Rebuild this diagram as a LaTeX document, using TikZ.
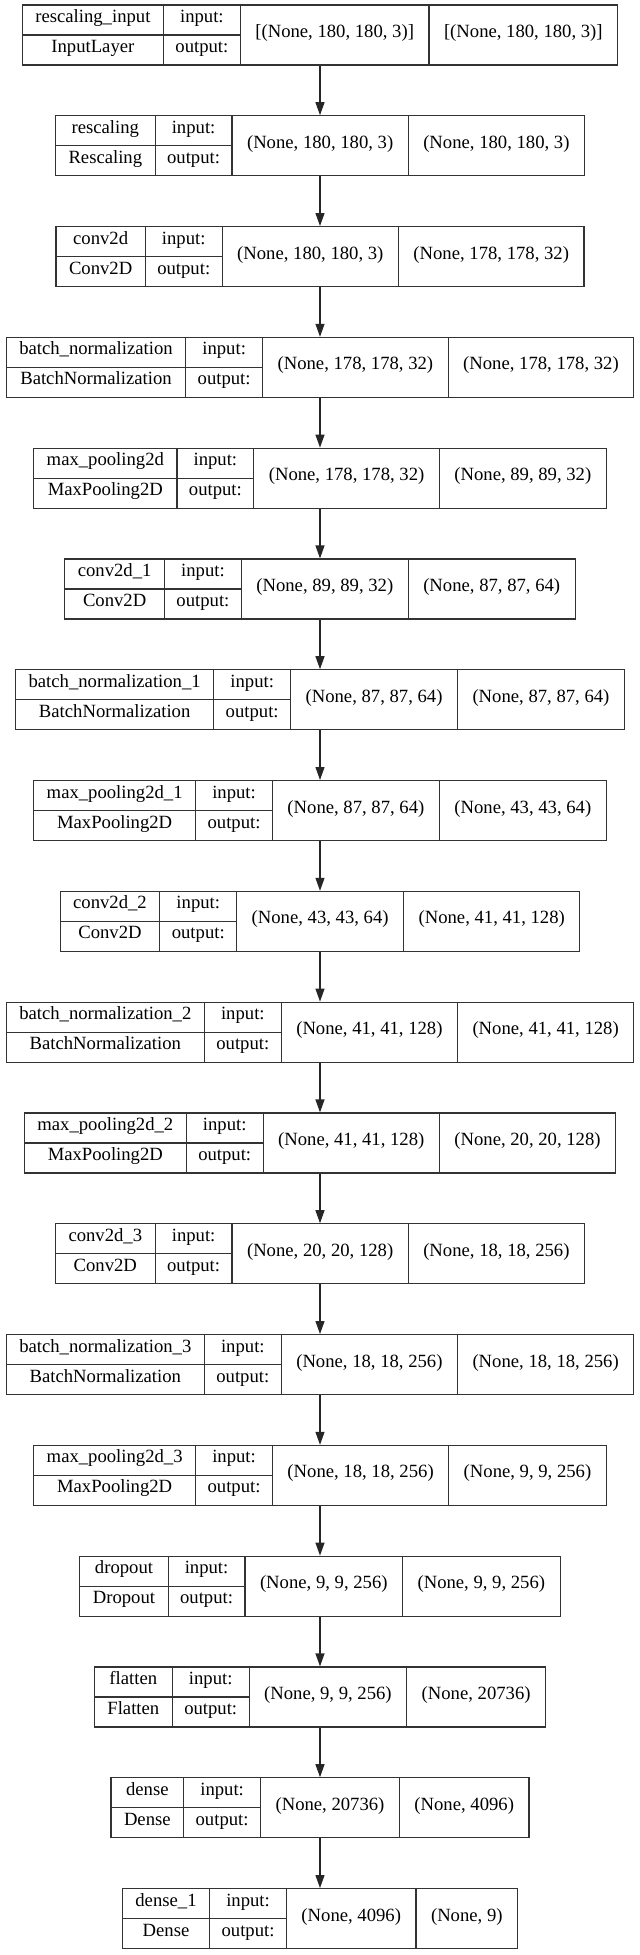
\documentclass[tikz,border=0pt]{standalone}
\usepackage{fontspec}
\setmainfont{Liberation Serif}
\usetikzlibrary{arrows.meta}
\newlength\lwA \newlength\lwB \newlength\lwC \newlength\lwD \newlength\lwT
\newcommand\lf{\fontsize{18.67}{22}\selectfont}
\tikzset{
  layerbox/.style={draw=black!80, line width=1.2pt, inner sep=0pt},
  sepline/.style={draw=black!80, line width=1.2pt},
  txt/.style={font=\lf, inner sep=0pt, text height=0.68em, text depth=0.2em},
  arr/.style={draw=black!85, line width=1.2pt, -{Triangle[length=13pt,width=9pt]}}
}
% measuring pass (outside the picture)
\newcommand\measurelayer[6]{%
  \begingroup
  \normalfont\lf
  \settowidth\lwA{#3}\settowidth\lwT{#4}%
  \ifdim\lwT>\lwA \lwA=\lwT\fi
  \settowidth\lwB{output:}%
  \settowidth\lwC{#5}\settowidth\lwD{#6}%
  \expandafter\xdef\csname mA@#1\endcsname{\the\lwA}%
  \expandafter\xdef\csname mB@#1\endcsname{\the\lwB}%
  \expandafter\xdef\csname mC@#1\endcsname{\the\lwC}%
  \expandafter\xdef\csname mD@#1\endcsname{\the\lwD}%
  \endgroup}
% drawing pass
% #1 node name, #2 top y, #3 name, #4 class, #5 input shape, #6 output shape
\newcommand\drawlayer[6]{%
  \pgfmathsetmacro\cwA{\csname mA@#1\endcsname+26}%
  \pgfmathsetmacro\cwB{\csname mB@#1\endcsname+24}%
  \pgfmathsetmacro\cwC{\csname mC@#1\endcsname+30}%
  \pgfmathsetmacro\cwD{\csname mD@#1\endcsname+30}%
  \pgfmathsetmacro\cwAll{\cwA+\cwB+\cwC+\cwD}%
  \pgfmathsetmacro\cxA{320-\cwAll/2}%
  \pgfmathsetmacro\cxB{\cxA+\cwA}%
  \pgfmathsetmacro\cxC{\cxB+\cwB}%
  \pgfmathsetmacro\cxD{\cxC+\cwC}%
  \pgfmathsetmacro\cxE{\cxD+\cwD}%
  \pgfmathsetmacro\cyT{#2}%
  \pgfmathsetmacro\cyM{#2+30}%
  \pgfmathsetmacro\cyB{#2+60}%
  \node[layerbox, minimum width=\cwAll pt, minimum height=60pt] (#1) at (320,\cyM) {};
  \draw[sepline] (\cxA,\cyM) -- (\cxC,\cyM);
  \draw[sepline] (\cxB,\cyT) -- (\cxB,\cyB);
  \draw[sepline] (\cxC,\cyT) -- (\cxC,\cyB);
  \draw[sepline] (\cxD,\cyT) -- (\cxD,\cyB);
  \node[txt] (#1-name) at ({(\cxA+\cxB)/2},{(\cyT+\cyM)/2}) {#3};
  \node[txt] (#1-class) at ({(\cxA+\cxB)/2},{(\cyM+\cyB)/2}) {#4};
  \node[txt] (#1-inl) at ({(\cxB+\cxC)/2},{(\cyT+\cyM)/2}) {input:};
  \node[txt] (#1-outl) at ({(\cxB+\cxC)/2},{(\cyM+\cyB)/2}) {output:};
  \node[txt] (#1-in) at ({(\cxC+\cxD)/2},\cyM) {#5};
  \node[txt] (#1-out) at ({(\cxD+\cxE)/2},\cyM) {#6};
}
\newcommand\alllayers{%
\layer{L0}{5}{rescaling\_input}{InputLayer}{[(None, 180, 180, 3)]}{[(None, 180, 180, 3)]}%
\layer{L1}{115.8}{rescaling}{Rescaling}{(None, 180, 180, 3)}{(None, 180, 180, 3)}%
\layer{L2}{226.6}{conv2d}{Conv2D}{(None, 180, 180, 3)}{(None, 178, 178, 32)}%
\layer{L3}{337.4}{batch\_normalization}{BatchNormalization}{(None, 178, 178, 32)}{(None, 178, 178, 32)}%
\layer{L4}{448.2}{max\_pooling2d}{MaxPooling2D}{(None, 178, 178, 32)}{(None, 89, 89, 32)}%
\layer{L5}{559.0}{conv2d\_1}{Conv2D}{(None, 89, 89, 32)}{(None, 87, 87, 64)}%
\layer{L6}{669.8}{batch\_normalization\_1}{BatchNormalization}{(None, 87, 87, 64)}{(None, 87, 87, 64)}%
\layer{L7}{780.6}{max\_pooling2d\_1}{MaxPooling2D}{(None, 87, 87, 64)}{(None, 43, 43, 64)}%
\layer{L8}{891.4}{conv2d\_2}{Conv2D}{(None, 43, 43, 64)}{(None, 41, 41, 128)}%
\layer{L9}{1002.2}{batch\_normalization\_2}{BatchNormalization}{(None, 41, 41, 128)}{(None, 41, 41, 128)}%
\layer{L10}{1113.0}{max\_pooling2d\_2}{MaxPooling2D}{(None, 41, 41, 128)}{(None, 20, 20, 128)}%
\layer{L11}{1223.8}{conv2d\_3}{Conv2D}{(None, 20, 20, 128)}{(None, 18, 18, 256)}%
\layer{L12}{1334.6}{batch\_normalization\_3}{BatchNormalization}{(None, 18, 18, 256)}{(None, 18, 18, 256)}%
\layer{L13}{1445.4}{max\_pooling2d\_3}{MaxPooling2D}{(None, 18, 18, 256)}{(None, 9, 9, 256)}%
\layer{L14}{1556.2}{dropout}{Dropout}{(None, 9, 9, 256)}{(None, 9, 9, 256)}%
\layer{L15}{1667.0}{flatten}{Flatten}{(None, 9, 9, 256)}{(None, 20736)}%
\layer{L16}{1777.8}{dense}{Dense}{(None, 20736)}{(None, 4096)}%
\layer{L17}{1888.6}{dense\_1}{Dense}{(None, 4096)}{(None, 9)}%
}
\AtBeginDocument{{\let\layer\measurelayer\alllayers}}
\begin{document}
\begin{tikzpicture}[x=1pt,y=-1pt]
\useasboundingbox[fill=white] (0,0) rectangle (640,1955);
\let\layer\drawlayer
\alllayers
\foreach \a/\b in {L0/L1,L1/L2,L2/L3,L3/L4,L4/L5,L5/L6,L6/L7,L7/L8,L8/L9,L9/L10,L10/L11,L11/L12,L12/L13,L13/L14,L14/L15,L15/L16,L16/L17}
  \draw[arr] (\a.south) -- (\b.north);
\end{tikzpicture}
\end{document}
